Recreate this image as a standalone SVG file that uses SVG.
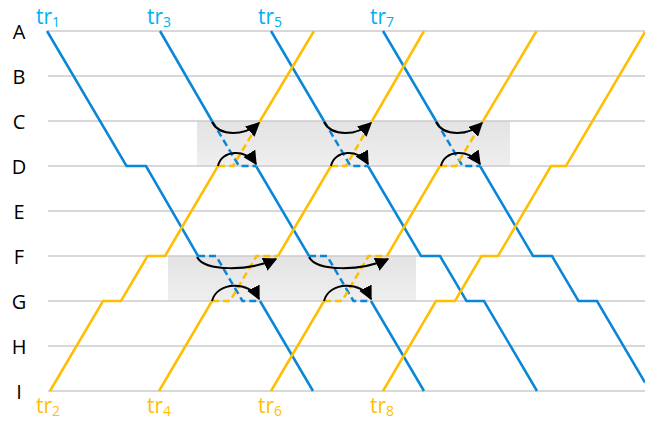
<svg xmlns="http://www.w3.org/2000/svg" width="645" height="421" viewBox="0 0 645 421">
<defs>
<linearGradient id="boxfill" x1="0" y1="0" x2="0" y2="1">
<stop offset="0" stop-color="#e3e3e3"/>
<stop offset="1" stop-color="#efefef"/>
</linearGradient>
<marker id="ah" viewBox="0 0 10 10" refX="9" refY="5" markerWidth="7" markerHeight="7" orient="auto" markerUnits="strokeWidth">
<path d="M0,0 L10,5 L0,10 z" fill="#000"/>
</marker>
<style>
.grid{stroke:#cbcbcb;stroke-width:1.6;fill:none}
.box{fill:url(#boxfill)}
.row{font-family:"Open Sans","Liberation Sans",sans-serif;font-size:20px;fill:#000;text-anchor:middle}
.lb{font-family:"Open Sans","Liberation Sans",sans-serif;font-size:21px}
.sub{font-size:14px}
.bl{fill:#00b0f0}
.or{fill:#ffc000}
.b{stroke:#0a86d8;stroke-width:2.5;fill:none;stroke-linejoin:miter}
.o{stroke:#ffbe00;stroke-width:2.5;fill:none;stroke-linejoin:miter}
.d{stroke-dasharray:7 4}
.arr{stroke:#000;stroke-width:2;fill:none;marker-end:url(#ah)}
</style>
</defs>
<g id="boxes">
<rect class="box" x="197" y="121" width="313" height="45"/>
<rect class="box" x="168" y="256" width="248" height="45"/>
</g>
<g id="grid">
<line class="grid" x1="48" y1="31" x2="645" y2="31"/>
<line class="grid" x1="48" y1="76" x2="645" y2="76"/>
<line class="grid" x1="48" y1="121" x2="645" y2="121"/>
<line class="grid" x1="48" y1="166" x2="645" y2="166"/>
<line class="grid" x1="48" y1="211" x2="645" y2="211"/>
<line class="grid" x1="48" y1="256" x2="645" y2="256"/>
<line class="grid" x1="48" y1="301" x2="645" y2="301"/>
<line class="grid" x1="48" y1="346" x2="645" y2="346"/>
<line class="grid" x1="48" y1="391" x2="645" y2="391"/>
</g>
<g id="stations">
<text class="row" x="19" y="39">A</text>
<text class="row" x="19" y="84">B</text>
<text class="row" x="19" y="129">C</text>
<text class="row" x="19" y="174">D</text>
<text class="row" x="19" y="219">E</text>
<text class="row" x="19" y="264">F</text>
<text class="row" x="19" y="309">G</text>
<text class="row" x="19" y="354">H</text>
<text class="row" x="19" y="399">I</text>
</g>
<g id="tr1">
<polyline class="b" points="47,31 126.5,166 146,166 198,256"/>
<polyline class="b d" points="198,256 216,256 242.5,301 260,301"/>
<polyline class="b" points="260,301 313,391"/>
<text class="lb bl" x="36" y="24">tr<tspan class="sub" dy="3">1</tspan></text>
</g>
<g id="tr3">
<polyline class="b" points="160,31 212,121"/>
<polyline class="b d" points="212,121 239,166 256,166"/>
<polyline class="b" points="256,166 309,256"/>
<polyline class="b d" points="309,256 327,256 353.5,301 371,301"/>
<polyline class="b" points="371,301 424,391"/>
<text class="lb bl" x="147" y="24">tr<tspan class="sub" dy="3">3</tspan></text>
</g>
<g id="tr5">
<polyline class="b" points="271,31 324,121"/>
<polyline class="b d" points="324,121 350.5,166 368,166"/>
<polyline class="b" points="368,166 421,256 440,256 466.5,301 484,301 537,391"/>
<text class="lb bl" x="258" y="24">tr<tspan class="sub" dy="3">5</tspan></text>
</g>
<g id="tr7">
<polyline class="b" points="383,31 436,121"/>
<polyline class="b d" points="436,121 462.5,166 480,166"/>
<polyline class="b" points="480,166 533,256 552,256 578.5,301 597,301 645,382.5"/>
<text class="lb bl" x="370" y="24">tr<tspan class="sub" dy="3">7</tspan></text>
</g>
<g id="tr2">
<polyline class="o" points="50,391 103,301 121,301 147.5,256 165,256 218,166"/>
<polyline class="o d" points="218,166 233,166 260,121"/>
<polyline class="o" points="260,121 314,31"/>
<text class="lb or" x="36" y="413">tr<tspan class="sub" dy="3">2</tspan></text>
</g>
<g id="tr4">
<polyline class="o" points="159,391 212,301"/>
<polyline class="o d" points="212,301 230,301 256.5,256 278,256"/>
<polyline class="o" points="278,256 331,166"/>
<polyline class="o d" points="331,166 346,166 372,121"/>
<polyline class="o" points="372,121 424,31"/>
<text class="lb or" x="147" y="413">tr<tspan class="sub" dy="3">4</tspan></text>
</g>
<g id="tr6">
<polyline class="o" points="271,391 324,301"/>
<polyline class="o d" points="324,301 342,301 368.5,256 387,256"/>
<polyline class="o" points="387,256 440,166"/>
<polyline class="o d" points="440,166 456,166 483,121"/>
<polyline class="o" points="483,121 536.5,31"/>
<text class="lb or" x="258" y="413">tr<tspan class="sub" dy="3">6</tspan></text>
</g>
<g id="tr8">
<polyline class="o" points="383,391 436,301 455,301 481.5,256 498,256 551,166 566,166 645,32"/>
<text class="lb or" x="370" y="413">tr<tspan class="sub" dy="3">8</tspan></text>
</g>
<g id="connectors">
<path class="arr" d="M212,122 C220,137 245,136 259,123"/>
<path class="arr" d="M218,166 C221,150 246,148 256,164"/>
<path class="arr" d="M324,122 C332,137 357,136 371,123"/>
<path class="arr" d="M331,166 C334,150 359,148 368,164"/>
<path class="arr" d="M436,122 C444,137 469,136 482,123"/>
<path class="arr" d="M441,166 C444,150 469,148 480,164"/>
<path class="arr" d="M197,257 C205,272 250,271 276,259"/>
<path class="arr" d="M212,301 C217,281 250,281 259,299"/>
<path class="arr" d="M309,257 C317,272 362,271 388,259"/>
<path class="arr" d="M324,301 C329,281 362,281 371,299"/>
</g>
</svg>
